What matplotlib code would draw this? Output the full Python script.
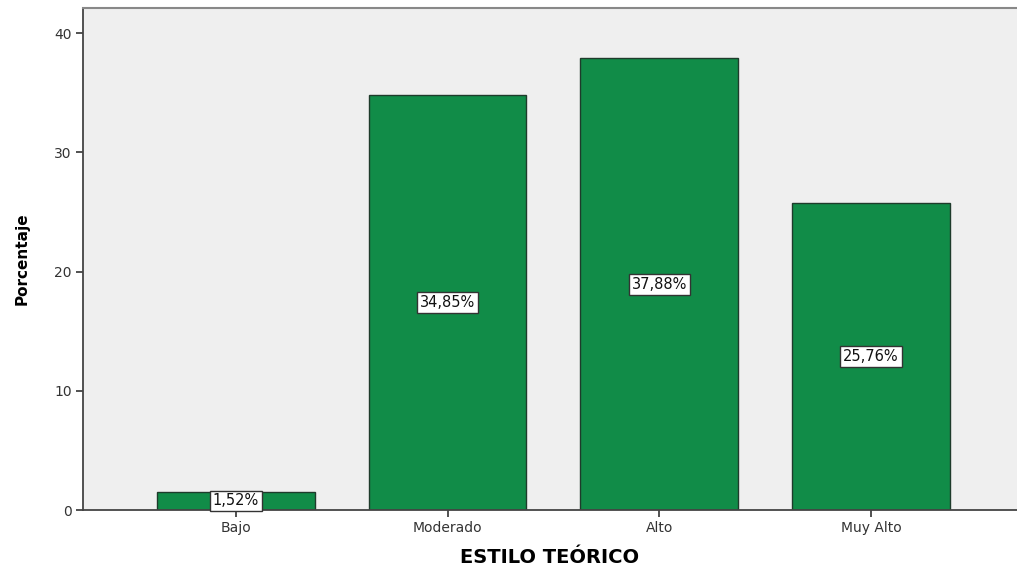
import matplotlib
matplotlib.use("Agg")
import matplotlib.pyplot as plt

categories = ["Bajo", "Moderado", "Alto", "Muy Alto"]
values = [1.52, 34.85, 37.88, 25.76]
labels = ["1,52%", "34,85%", "37,88%", "25,76%"]
yticks = [0, 10, 20, 30, 40]

plt.rcParams['font.family'] = ['DejaVu Sans']

fig = plt.figure(figsize=(10.17, 5.66), dpi=100)
ax = fig.add_axes([83/1017, 56/566, 1 - 83/1017, 501.7/566])
ax.set_facecolor("#EFEFEF")

x = list(range(len(categories)))
ax.bar(x, values, width=0.745, color="#118C48", edgecolor="#1E3B2B", linewidth=1.0, zorder=2)

for xi, v, lab in zip(x, values, labels):
    ax.text(xi, v / 2, lab, ha="center", va="center", fontsize=10.5, color="#111111",
            bbox=dict(boxstyle="square,pad=0.2", facecolor="white", edgecolor="#333333", linewidth=1.0),
            zorder=3)

ax.set_xlim(-0.722, 3.689)
ax.set_ylim(0, 42.09)
ax.set_xticks(x)
ax.set_xticklabels(categories, fontsize=10, color="#333333")
ax.set_yticks(yticks)
ax.set_yticklabels([str(t) for t in yticks], fontsize=10, color="#333333")
ax.tick_params(axis="both", direction="out", length=5, width=1.2, color="#333333", pad=3)

ax.spines["left"].set_color("#444444")
ax.spines["left"].set_linewidth(1.3)
ax.spines["bottom"].set_color("#444444")
ax.spines["bottom"].set_linewidth(1.3)
ax.spines["top"].set_color("#888888")
ax.spines["top"].set_linewidth(1.5)
ax.spines["right"].set_visible(False)

ax.set_ylabel("Porcentaje", fontsize=11, fontweight="bold", labelpad=18)
ax.set_xlabel("ESTILO TEÓRICO", fontsize=14, fontweight="bold", labelpad=9)

fig.savefig("out.png", dpi=100)
